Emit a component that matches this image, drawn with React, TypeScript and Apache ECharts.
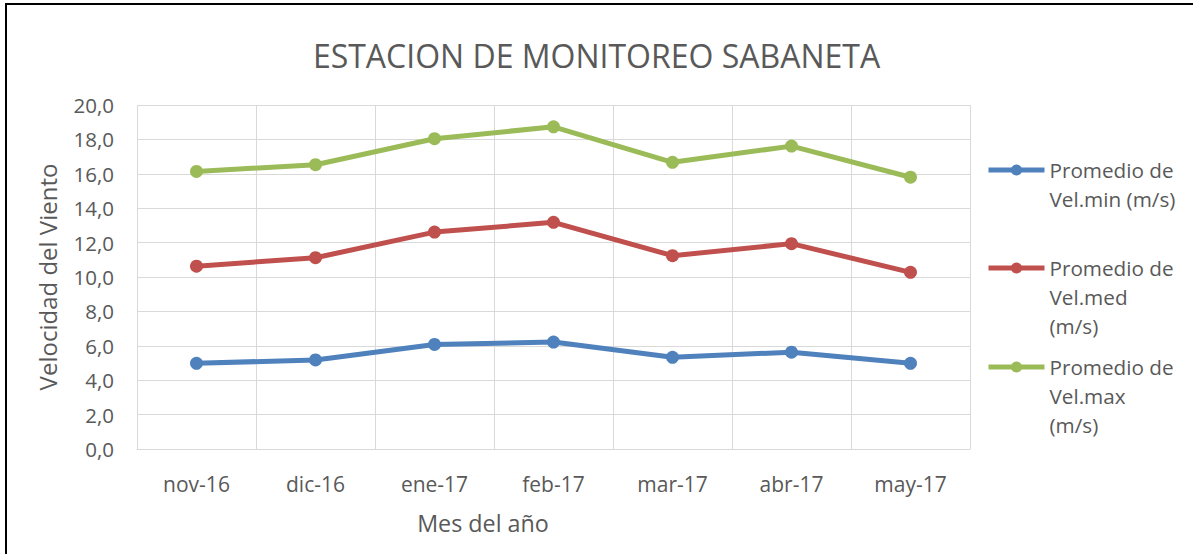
import React, { useEffect, useRef } from "react";
import * as echarts from "echarts";

const categories = ["nov-16", "dic-16", "ene-17", "feb-17", "mar-17", "abr-17", "may-17"];
const velMin = [4.98, 5.18, 6.08, 6.22, 5.33, 5.63, 4.98];
const velMed = [10.63, 11.12, 12.61, 13.18, 11.24, 11.94, 10.27];
const velMax = [16.14, 16.53, 18.04, 18.73, 16.67, 17.61, 15.8];
const seriesNames = ["Promedio de Vel.min (m/s)", "Promedio de Vel.med (m/s)", "Promedio de Vel.max (m/s)"];
const legendLabels = ["Promedio de\nVel.min (m/s)", "Promedio de\nVel.med\n(m/s)", "Promedio de\nVel.max\n(m/s)"];
const colors = ["#4f81bd", "#c0504d", "#9bbb59"];

const FONT = "Open Sans";
const LH = 29;

export default function App() {
  const ref = useRef<HTMLDivElement>(null);
  useEffect(() => {
    const chart = echarts.init(ref.current!, null, { renderer: "svg" });
    const values = [velMin, velMed, velMax];
    const firstLineCenters = [170, 268, 367];
    chart.setOption({
      animation: false,
      backgroundColor: "#ffffff",
      title: {
        text: "ESTACION DE MONITOREO SABANETA",
        left: "center",
        top: 34,
        textStyle: { fontFamily: FONT, fontSize: 32, fontWeight: "normal", color: "#595959" },
      },
      legend: legendLabels.map((lab, i) => {
        const lines = lab.split("\n").length;
        const total = 2 * lines - 1;
        const text = " \n".repeat(lines - 1) + lab;
        return {
          data: [seriesNames[i]],
          left: 986,
          top: firstLineCenters[i] - (total * LH) / 2,
          padding: 0,
          orient: "vertical",
          itemWidth: 56,
          itemHeight: 14,
          lineStyle: { width: 5 },
          formatter: () => text,
          textStyle: {
            fontFamily: FONT,
            fontSize: 20.7,
            color: "#595959",
            lineHeight: LH,
          },
        };
      }),
      grid: { left: 137, right: 223, top: 105, bottom: 105, containLabel: false },
      xAxis: {
        type: "category",
        data: categories,
        boundaryGap: true,
        axisLine: { show: true, lineStyle: { color: "#d9d9d9", width: 1 } },
        axisTick: { show: false },
        splitLine: { show: true, lineStyle: { color: "#d9d9d9", width: 1 } },
        axisLabel: { fontFamily: FONT, fontSize: 21, color: "#595959", margin: 24 },
      },
      yAxis: {
        type: "value",
        min: 0,
        max: 20,
        interval: 2,
        name: "Velocidad del Viento",
        nameLocation: "middle",
        nameGap: 78,
        nameTextStyle: { fontFamily: FONT, fontSize: 24, color: "#595959" },
        axisLine: { show: false },
        axisTick: { show: false },
        splitLine: { show: true, lineStyle: { color: "#d9d9d9", width: 1 } },
        axisLabel: {
          fontFamily: FONT,
          fontSize: 20.5,
          color: "#595959",
          margin: 23,
          formatter: (v: number) => v.toFixed(1).replace(".", ","),
        },
      },
      graphic: [
        {
          type: "rect",
          shape: { x: 6, y: 4, width: 1190, height: 560 },
          style: { fill: "none", stroke: "#000000", lineWidth: 2 },
          silent: true,
        },
        {
          type: "text",
          x: 483,
          y: 523,
          style: {
            text: "Mes del año",
            fontFamily: FONT,
            fontSize: 23.3,
            fill: "#595959",
            align: "center",
            verticalAlign: "middle",
          },
        },
      ],
      series: values.map((d, i) => ({
        name: seriesNames[i],
        type: "line",
        data: d,
        symbol: "circle",
        symbolSize: 13,
        lineStyle: { color: colors[i], width: 5 },
        itemStyle: { color: colors[i] },
      })),
    });
    return () => chart.dispose();
  }, []);
  return (
    <div
      ref={ref}
      style={{ position: "absolute", left: 0, top: 0, width: 1193, height: 554 }}
    />
  );
}
